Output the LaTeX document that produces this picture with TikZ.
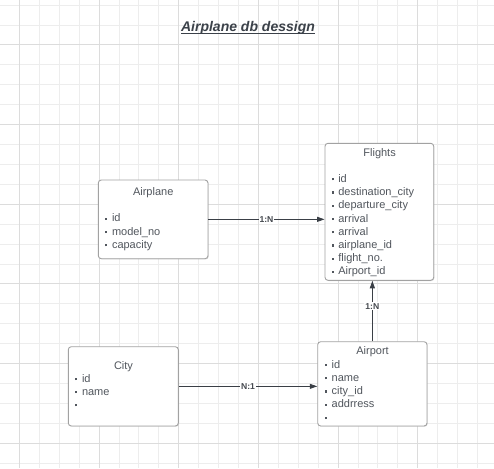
\documentclass[tikz,border=0pt]{standalone}
\usepackage{fontspec}
\setmainfont{Liberation Sans}
\usetikzlibrary{arrows.meta,shadows}
\definecolor{gridminor}{HTML}{EDEDED}
\definecolor{gridmajor}{HTML}{DCDCDC}
\definecolor{boxline}{HTML}{A2A2A2}
\definecolor{txt}{HTML}{51565D}
\definecolor{conn}{HTML}{3A3F46}
\definecolor{ttl}{HTML}{3B4149}
\newcommand{\itembul}{\rule[2pt]{2.2pt}{2.2pt}\hspace{4.6pt}}
\newcommand{\ulinetitle}[1]{{\setbox0\hbox{#1}\rlap{\rule[-1.8pt]{\wd0}{0.9pt}}\box0}}
\begin{document}
\begin{tikzpicture}[x=1pt,y=-1pt,
  entity/.style={draw=boxline, line width=0.9pt, rounded corners=3pt, fill=white, inner sep=0pt,
    drop shadow={shadow xshift=0.7pt, shadow yshift=-0.7pt, fill=black!28}},
  etitle/.style={inner sep=0pt, text height=8pt, text depth=2pt, font=\fontsize{11}{13}\selectfont, text=txt},
  eitem/.style={anchor=west, inner sep=0pt, text height=8pt, text depth=2pt, font=\fontsize{11}{13}\selectfont, text=txt},
  relarrow/.style={draw=conn, line width=0.9pt, -{Triangle[length=7.5pt,width=5pt]}},
  rellbl/.style={fill=white, inner sep=1pt, font=\fontsize{8.6}{10}\selectfont\bfseries, text=txt!85!black}]
\useasboundingbox (0,0) rectangle (494,468);
\fill[white] (0,0) rectangle (494,468);
% grid
\foreach \k in {0,...,23} {
  \draw[gridminor, line width=0.8pt] ({19.3+19.92*\k},0) -- ({19.3+19.92*\k},468);
  \draw[gridminor, line width=0.8pt] (0,{5+19.92*\k}) -- (494,{5+19.92*\k});
}
\foreach \k in {0,4,...,20} {
  \draw[gridmajor, line width=0.8pt] ({19.3+19.92*\k},0) -- ({19.3+19.92*\k},468);
}
\foreach \k in {2,6,...,22} {
  \draw[gridmajor, line width=0.8pt] (0,{5+19.92*\k}) -- (494,{5+19.92*\k});
}
% title
\node[font=\fontsize{14}{16}\selectfont\bfseries\itshape, text=ttl, inner sep=0pt, text height=10pt, text depth=3pt] (title) at (248,28.3) {\ulinetitle{Airplane db dessign}};
% boxes
\node[entity, minimum width=109.7pt, minimum height=78.7pt] (airplane) at (153.15,219.35) {};
\node[entity, minimum width=108.7pt, minimum height=137pt] (flights) at (379.35,211.8) {};
\node[entity, minimum width=110pt, minimum height=79.3pt] (city) at (123.3,386.35) {};
\node[entity, minimum width=109.3pt, minimum height=84.3pt] (airport) at (372.35,383.85) {};
% titles
\node[etitle] (airplane-t) at (153.2,192.3) {Airplane};
\node[etitle] (flights-t) at (379.6,153.3) {Flights};
\node[etitle] (city-t) at (123.5,366) {City};
\node[etitle] (airport-t) at (372.6,351.7) {Airport};
% items
\foreach \t [count=\i from 0] in {id,model\_no,capacity}
  \node[eitem] (airplane-\i) at (105,{218.7+13.35*\i}) {\itembul\t};
\foreach \t [count=\i from 0] in {id,destination\_city,departure\_city,arrival,arrival,airplane\_id,flight\_no.,Airport\_id}
  \node[eitem] (flights-\i) at (331.3,{179.3+13.24*\i}) {\itembul\t};
\foreach \t [count=\i from 0] in {id,name,{}}
  \node[eitem] (city-\i) at (75,{379+13.2*\i}) {\itembul\t};
\foreach \t [count=\i from 0] in {id,name,city\_id,addrress,{}}
  \node[eitem] (airport-\i) at (324.7,{365+13.25*\i}) {\itembul\t};
% connectors
\draw[relarrow] (airplane.east) -- node[rellbl] (l1) {1:N} (airplane.east -| flights.west);
\draw[relarrow] (city.east) -- node[rellbl] (l2) {N:1} (city.east -| airport.west);
\draw[relarrow] (airport.north) -- node[rellbl, pos=0.58] (l3) {1:N} (airport.north |- flights.south);
\end{tikzpicture}
\end{document}
